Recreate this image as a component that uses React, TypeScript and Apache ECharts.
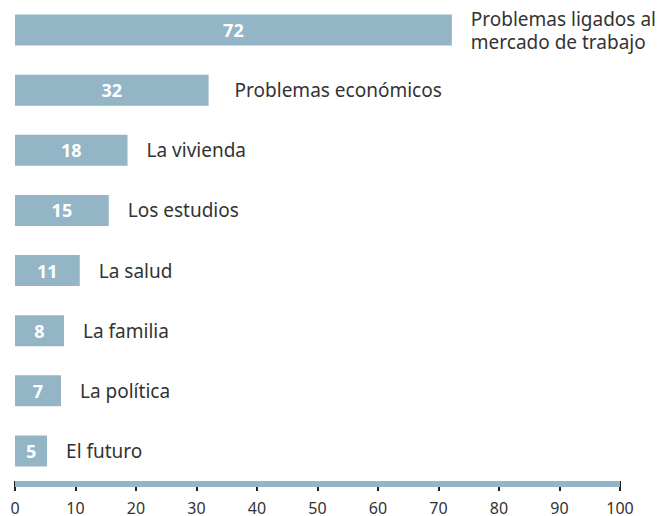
import React, { useEffect, useRef } from "react";
import * as echarts from "echarts";

const categories = [
  "Problemas ligados al\nmercado de trabajo",
  "Problemas económicos",
  "La vivienda",
  "Los estudios",
  "La salud",
  "La familia",
  "La política",
  "El futuro",
];
// printed values
const labels = [72, 32, 18, 15, 11, 8, 7, 5];
// bar lengths as measured on the picture
const barLengths = [72.2, 32, 18.6, 15.5, 10.7, 8.1, 7.6, 5.3];
const tickValues = [0, 10, 20, 30, 40, 50, 60, 70, 80, 90, 100];

const BAR = "#93b5c6";
const FONT = "Noto Sans";

export default function App() {
  const ref = useRef<HTMLDivElement>(null);
  useEffect(() => {
    if (!ref.current) return;
    const chart = echarts.init(ref.current, null, { renderer: "svg" });
    chart.setOption({
      animation: false,
      grid: { left: 15, right: 39, top: 0, height: 483, containLabel: false },
      xAxis: [
        {
          type: "value",
          position: "bottom",
          min: 0,
          max: 100,
          interval: 10,
          splitLine: { show: false },
          axisLine: { show: false },
          axisTick: { show: true, length: 10, lineStyle: { color: "#222", width: 2 } },
          axisLabel: {
            margin: 19,
            fontFamily: FONT,
            fontSize: 16,
            color: "#333",
            formatter: (v: number) => (tickValues.includes(v) ? String(v) : ""),
          },
        },
        {
          type: "value",
          position: "bottom",
          min: 0,
          max: 101.2,
          offset: 3,
          z: 5,
          splitLine: { show: false },
          axisTick: { show: false },
          axisLabel: { show: false },
          axisLine: { show: true, lineStyle: { color: BAR, width: 6, cap: "butt" } },
        },
      ],
      yAxis: {
        type: "category",
        data: categories,
        inverse: true,
        show: false,
      },
      series: [
        {
          type: "bar",
          data: barLengths,
          barWidth: 31,
          itemStyle: { color: BAR },
          label: {
            show: true,
            position: "inside",
            color: "#fff",
            fontWeight: "bold",
            fontFamily: FONT,
            fontSize: 18,
            formatter: (p: any) => String(labels[p.dataIndex]),
          },
        },
        {
          type: "bar",
          data: barLengths.map((v, i) =>
            i === 1 ? { value: v, label: { distance: 26 } } : v
          ),
          barWidth: 31,
          barGap: "-100%",
          itemStyle: { color: "transparent" },
          label: {
            show: true,
            position: "right",
            distance: 19,
            color: "#333",
            fontFamily: FONT,
            fontSize: 19,
            lineHeight: 23,
            formatter: (p: any) => categories[p.dataIndex],
          },
        },
      ],
    });
    return () => chart.dispose();
  }, []);
  return <div ref={ref} style={{ width: 659, height: 516, position: "absolute", left: 0, top: 0 }} />;
}
